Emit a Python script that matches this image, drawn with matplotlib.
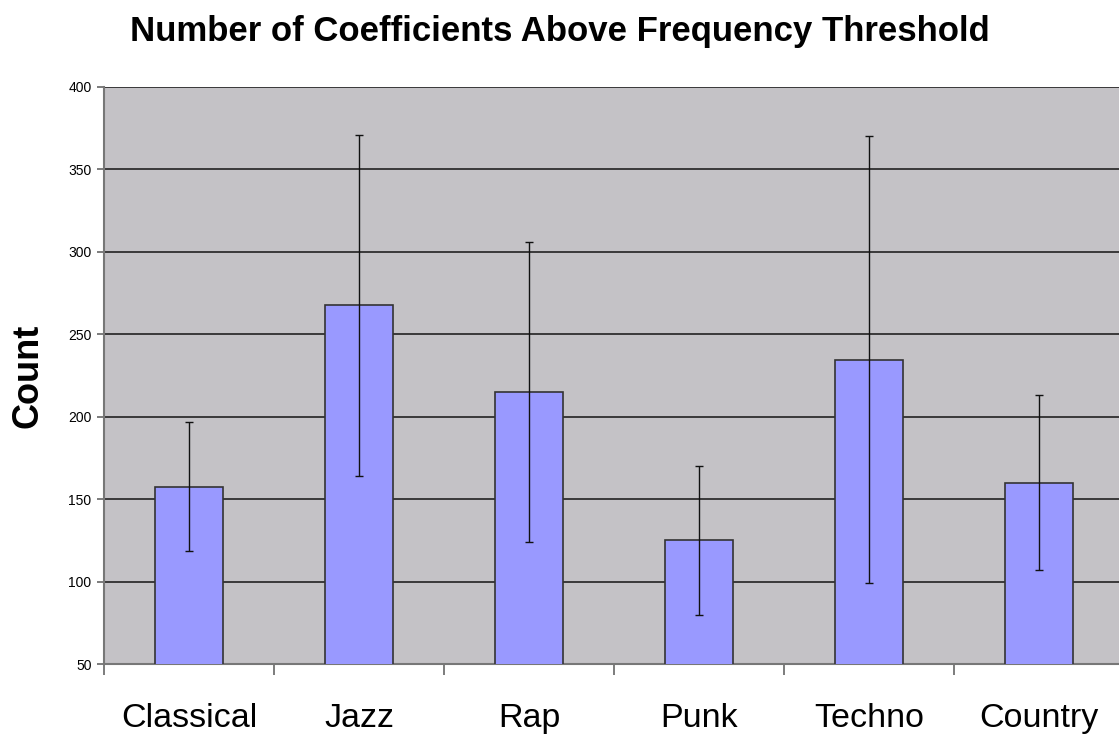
import numpy as np
import matplotlib.pyplot as plt

# data
genres = ['Classical', 'Jazz', 'Rap', 'Punk', 'Techno', 'Country']
counts = [157.5, 267.5, 215, 125, 234.5, 160]
errors = [39, 103.5, 91, 45, 135.5, 53]
yticks = [50, 100, 150, 200, 250, 300, 350, 400]

plt.rcParams['font.family'] = ['Liberation Sans', 'DejaVu Sans']

fig = plt.figure(figsize=(11.19, 7.39), dpi=100)
ax = fig.add_axes([104/1119, 75/739, 1020/1119, 577/739])
ax.set_facecolor('#c4c2c6')

x = np.arange(len(genres))
ax.bar(x, counts, width=0.4, color='#9999ff', edgecolor='#333333',
       linewidth=1.2, zorder=3)
ax.errorbar(x, counts, yerr=errors, fmt='none', ecolor='#111111',
            elinewidth=1, capsize=3, capthick=1, zorder=4)

ax.set_xlim(-0.5, len(genres) - 0.5)
ax.set_ylim(50, 400)
ax.set_yticks(yticks)
ax.set_yticklabels([str(t) for t in yticks], fontsize=10)
ax.yaxis.grid(True, color='#222222', linewidth=1.2, zorder=1)

ax.set_xticks(x)
ax.set_xticklabels(genres, fontsize=24.5)
ax.set_xticks(np.arange(len(genres) + 1) - 0.5, minor=True)
ax.tick_params(axis='x', which='major', length=0, pad=28)
ax.tick_params(axis='x', which='minor', length=8, width=1.2, color='#666666')
ax.tick_params(axis='y', length=5, width=1.2, color='#666666', pad=4)

for side in ['top', 'right']:
    ax.spines[side].set_visible(False)
for side in ['left', 'bottom']:
    ax.spines[side].set_color('#777777')
    ax.spines[side].set_linewidth(1.5)

ax.set_ylabel('Count', fontsize=26, fontweight='bold', labelpad=16)
fig.suptitle('Number of Coefficients Above Frequency Threshold',
             fontsize=25, fontweight='bold', x=0.5, y=0.98)

plt.savefig('out.png', dpi=100)
